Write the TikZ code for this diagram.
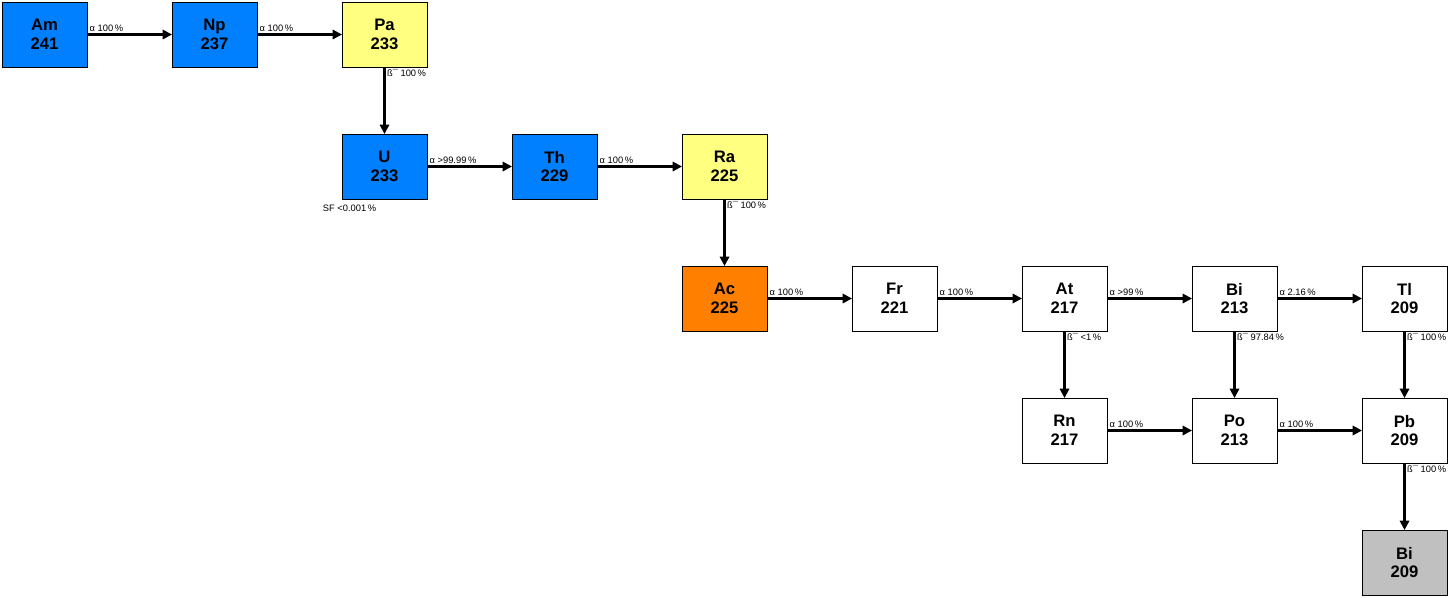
\documentclass[tikz,border=0pt]{standalone}
\usepackage{fontspec}
\setmainfont{Liberation Sans}
\usetikzlibrary{arrows.meta, positioning}
\definecolor{fissile}{RGB}{0,128,255}
\definecolor{parent}{RGB}{255,255,128}
\definecolor{actinium}{RGB}{255,128,0}
\definecolor{stable}{RGB}{192,192,192}

\begin{document}
\begin{tikzpicture}[
    x=0.75pt, y=-0.75pt,
    nuclide/.style={
        draw,
        rectangle,
        line width=0.75pt,
        minimum width=63.75pt,
        minimum height=48.75pt,
        inner sep=0pt,
        outer sep=0pt,
        fill=white,
        align=center,
        font=\fontsize{12.5}{14}\selectfont\bfseries
    },
    decay/.style={
        -{Triangle[length=7pt, width=7pt]},
        line width=1.6pt
    },
    mode/.style={
        font=\fontsize{7}{8}\selectfont,
        inner sep=1.2pt
    },
    node distance=50.25pt and 63.75pt
]
\useasboundingbox (0,0) rectangle (1448,597);

% Row 1
\node[nuclide, fill=fissile] (am241) at (44.5,34.5) {Am\\241};
\node[nuclide, fill=fissile, right=of am241] (np237) {Np\\237};
\node[nuclide, fill=parent, right=of np237] (pa233) {Pa\\233};

\draw[decay] (am241) -- node[mode, above right, pos=0] {α 100\,\%} (np237);
\draw[decay] (np237) -- node[mode, above right, pos=0] {α 100\,\%} (pa233);

% Row 2
\node[nuclide, fill=fissile, below=of pa233] (u233) {U\\233};
\node[nuclide, fill=fissile, right=of u233] (th229) {Th\\229};
\node[nuclide, fill=parent, right=of th229] (ra225) {Ra\\225};
\node[mode, anchor=north east] (u233sf) at ([xshift=27pt, yshift=-3pt]u233.south west) {SF <0.001\,\%};

\draw[decay] (pa233) -- node[mode, below right, pos=0] {ß¯ 100\,\%} (u233);
\draw[decay] (u233) -- node[mode, above right, pos=0] {α >99.99\,\%} (th229);
\draw[decay] (th229) -- node[mode, above right, pos=0] {α 100\,\%} (ra225);

% Row 3
\node[nuclide, fill=actinium, below=of ra225] (ac225) {Ac\\225};
\node[nuclide, right=of ac225] (fr221) {Fr\\221};
\node[nuclide, right=of fr221] (at217) {At\\217};
\node[nuclide, right=of at217] (bi213) {Bi\\213};
\node[nuclide, right=of bi213] (tl209) {Tl\\209};

\draw[decay] (ra225) -- node[mode, below right, pos=0] {ß¯ 100\,\%} (ac225);
\draw[decay] (ac225) -- node[mode, above right, pos=0] {α 100\,\%} (fr221);
\draw[decay] (fr221) -- node[mode, above right, pos=0] {α 100\,\%} (at217);
\draw[decay] (at217) -- node[mode, above right, pos=0] {α >99\,\%} (bi213);
\draw[decay] (bi213) -- node[mode, above right, pos=0] {α 2.16\,\%} (tl209);

% Row 4
\node[nuclide, below=of at217] (rn217) {Rn\\217};
\node[nuclide, below=of bi213] (po213) {Po\\213};
\node[nuclide, below=of tl209] (pb209) {Pb\\209};

\draw[decay] (at217) -- node[mode, below right, pos=0] {ß¯ <1\,\%} (rn217);
\draw[decay] (bi213) -- node[mode, below right, pos=0] {ß¯ 97.84\,\%} (po213);
\draw[decay] (tl209) -- node[mode, below right, pos=0] {ß¯ 100\,\%} (pb209);
\draw[decay] (rn217) -- node[mode, above right, pos=0] {α 100\,\%} (po213);
\draw[decay] (po213) -- node[mode, above right, pos=0] {α 100\,\%} (pb209);

% Row 5
\node[nuclide, fill=stable, below=of pb209] (bi209) {Bi\\209};

\draw[decay] (pb209) -- node[mode, below right, pos=0] {ß¯ 100\,\%} (bi209);

\end{tikzpicture}
\end{document}
